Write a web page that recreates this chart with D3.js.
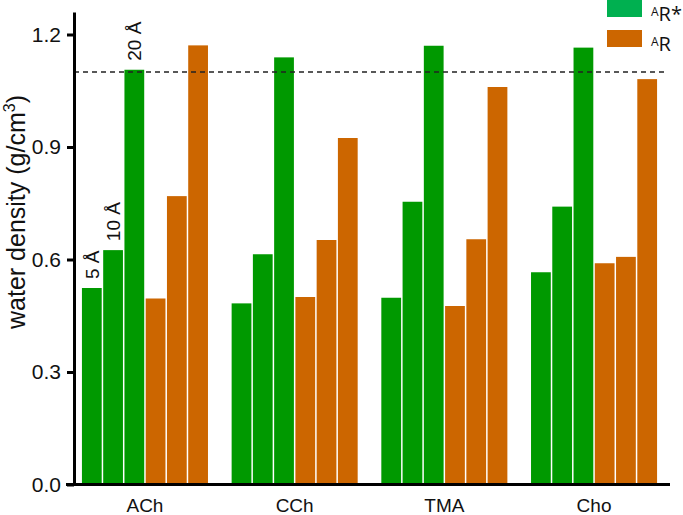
<!DOCTYPE html>
<html>
<head>
<meta charset="utf-8">
<script src="https://cdn.jsdelivr.net/npm/d3@7"></script>
<style>
  html, body { margin: 0; padding: 0; background: #fff; }
  svg { display: block; }
</style>
</head>
<body>
<svg id="chart" width="683" height="515"></svg>
<script>
// ---- data ----
const categories = ["ACh", "CCh", "TMA", "Cho"];
const radii = ["5 Å", "10 Å", "20 Å"];
// AR* (green) water density at 5, 10, 20 Å
const arStar = [
  [0.524, 0.625, 1.106],
  [0.483, 0.614, 1.139],
  [0.498, 0.754, 1.170],
  [0.566, 0.741, 1.165]
];
// AR (orange) water density at 5, 10, 20 Å
const ar = [
  [0.496, 0.769, 1.171],
  [0.500, 0.652, 0.924],
  [0.476, 0.654, 1.060],
  [0.590, 0.607, 1.081]
];
const yTicks = [0.0, 0.3, 0.6, 0.9, 1.2];
const bulkDensity = 1.1;
const seriesNames = ["AR*", "AR"];

// ---- layout ----
const svg = d3.select("#chart");
const axisX = 74, baseY = 484.5, topY = 12;
const colorGreen = "#009900", colorOrange = "#cc6600";
const legendGreen = "#00b050", legendOrange = "#cc6600";

const y = d3.scaleLinear().domain([0, 1.26]).range([baseY, topY]);
const x = d3.scaleBand().domain(categories).range([axisX, 665])
  .paddingInner(0.158).paddingOuter(0.053);
const sub = d3.scaleBand().domain(d3.range(6)).range([0, x.bandwidth()])
  .paddingInner(0.07).paddingOuter(0);

// bars
const rows = [];
categories.forEach((c, i) => {
  arStar[i].forEach((v, j) => rows.push({ cat: c, idx: j, v, color: colorGreen }));
  ar[i].forEach((v, j) => rows.push({ cat: c, idx: j + 3, v, color: colorOrange }));
});
svg.append("g").selectAll("rect").data(rows).join("rect")
  .attr("x", d => x(d.cat) + sub(d.idx))
  .attr("y", d => y(d.v))
  .attr("width", sub.bandwidth())
  .attr("height", d => y(0) - y(d.v))
  .attr("fill", d => d.color);

// dashed reference line
svg.append("line")
  .attr("x1", axisX).attr("x2", 666)
  .attr("y1", y(bulkDensity)).attr("y2", y(bulkDensity))
  .attr("stroke", "#222").attr("stroke-width", 1.4)
  .attr("stroke-dasharray", "5,4");

// y axis
const yAxis = d3.axisLeft(y).tickValues(yTicks).tickFormat(d3.format(".1f"))
  .tickSize(7).tickPadding(6).tickSizeOuter(0);
const gy = svg.append("g").attr("transform", `translate(${axisX},0)`).call(yAxis);
gy.select(".domain").attr("stroke", "#000").attr("stroke-width", 3);
gy.selectAll(".tick line").attr("stroke", "#000").attr("stroke-width", 3);
gy.selectAll(".tick text").attr("font-family", "Liberation Sans, Arial, sans-serif")
  .attr("font-size", 21).attr("fill", "#111");

// x axis
const xAxis = d3.axisBottom(x).tickSize(0).tickPadding(10);
const gx = svg.append("g").attr("transform", `translate(0,${baseY})`).call(xAxis);
gx.select(".domain").remove();
gx.append("line").attr("x1", 66).attr("x2", 670).attr("y1", 0).attr("y2", 0)
  .attr("stroke", "#000").attr("stroke-width", 3);
gx.selectAll(".tick text").attr("font-family", "Liberation Sans, Arial, sans-serif")
  .attr("font-size", 19).attr("fill", "#111").attr("dy", "0.92em");

// y label
svg.append("text")
  .attr("transform", `translate(25,212) rotate(-90)`)
  .attr("text-anchor", "middle")
  .attr("font-family", "Liberation Sans, Arial, sans-serif")
  .attr("font-size", 25).attr("fill", "#111")
  .call(t => {
    t.append("tspan").text("water density (g/cm");
    t.append("tspan").attr("font-size", 16).attr("dy", "-0.6em").text("3");
    t.append("tspan").attr("dy", "0.38em").text(")");
  });

// radius annotations over first group's green bars
radii.forEach((r, j) => {
  const cx = x(categories[0]) + sub(j) + sub.bandwidth() / 2;
  svg.append("text")
    .attr("transform", `translate(${cx + 7},${y(arStar[0][j]) - 9}) rotate(-90)`)
    .attr("font-family", "Liberation Sans, Arial, sans-serif")
    .attr("font-size", 19).attr("fill", "#111")
    .text(r);
});

// legend
const legend = [
  { name: seriesNames[0], color: legendGreen, y: 0 },
  { name: seriesNames[1], color: legendOrange, y: 30 }
];
legend.forEach(l => {
  svg.append("rect").attr("x", 607).attr("y", l.y).attr("width", 35).attr("height", 17)
    .attr("fill", l.color);
  const t = svg.append("text").attr("x", 651).attr("y", l.y + 21)
    .attr("font-family", "Open Sans, Noto Sans, sans-serif")
    .attr("font-size", 20).attr("fill", "#111");
  t.append("tspan").attr("font-size", 12).attr("dy", "-0.42em").text("A");
  t.append("tspan").attr("dy", "5px").text(l.name.slice(1));
});
</script>
</body>
</html>
